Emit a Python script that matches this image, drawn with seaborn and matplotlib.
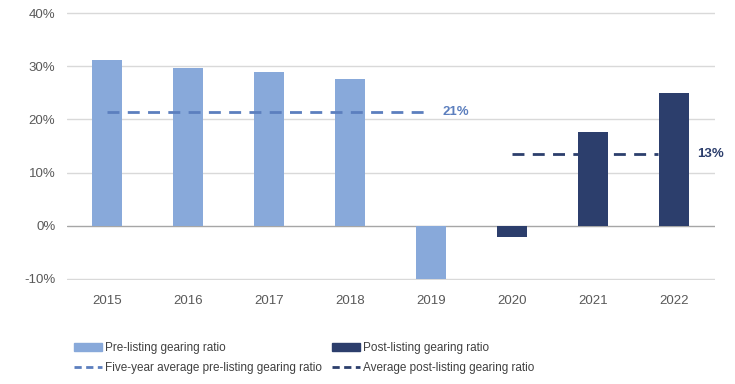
import matplotlib
matplotlib.use("Agg")
import matplotlib.pyplot as plt
import matplotlib.patches as mpatches
import matplotlib.lines as mlines
import numpy as np
import pandas as pd
import seaborn as sns

# Gearing ratio by year (%)
years = ["2015", "2016", "2017", "2018", "2019", "2020", "2021", "2022"]
ratios = [31.1, 29.6, 28.9, 27.6, -10.0, -2.1, 17.6, 24.9]
phases = ["Pre-listing", "Pre-listing", "Pre-listing", "Pre-listing", "Pre-listing",
          "Post-listing", "Post-listing", "Post-listing"]

pre_years = years[:5]
post_years = years[5:]

y_ticks = [-10, 0, 10, 20, 30, 40]

legend_labels = ["Pre-listing gearing ratio",
                 "Five-year average pre-listing gearing ratio",
                 "Post-listing gearing ratio",
                 "Average post-listing gearing ratio"]

PRE_COLOR = "#88A9DA"
POST_COLOR = "#2C3E6C"
PRE_LINE = "#5C7FBE"
POST_LINE = "#2C3E6C"
TEXT_GRAY = "#595959"

sns.set_theme(style="white")
plt.rcParams["font.family"] = ["Liberation Sans", "DejaVu Sans"]

df = pd.DataFrame({"year": years, "ratio": ratios, "phase": phases})

fig = plt.figure(figsize=(7.35, 3.84), dpi=100)
ax = fig.add_axes([66.5 / 735, 1 - 280 / 384, 648 / 735, 268 / 384])

sns.barplot(data=df, x="year", y="ratio", hue="phase", order=years,
            hue_order=["Pre-listing", "Post-listing"],
            palette={"Pre-listing": PRE_COLOR, "Post-listing": POST_COLOR},
            dodge=False, width=0.36, saturation=1, legend=False, linewidth=0,
            ax=ax, zorder=2)

# Averages of each period
pre_vals = [r for r, p in zip(ratios, phases) if p == "Pre-listing"]
post_vals = [r for r, p in zip(ratios, phases) if p == "Post-listing"]
pre_avg = float(np.mean(pre_vals))
post_avg = float(np.mean(post_vals))

x0_pre, x1_pre = years.index(pre_years[0]), years.index(pre_years[-1])
x0_post, x1_post = years.index(post_years[0]), years.index(post_years[-1])

dash = (0, (4.3, 3))
ax.plot([x0_pre, x1_pre], [pre_avg, pre_avg], color=PRE_LINE, lw=2,
        ls=dash, zorder=3)
ax.plot([x0_post, x1_post - 0.2], [post_avg, post_avg], color=POST_LINE, lw=2,
        ls=dash, zorder=3)

ax.text(x1_pre + 0.14, pre_avg, f"{pre_avg:.0f}%", color=PRE_LINE, fontsize=9.5,
        fontweight="bold", va="center", ha="left")
ax.text(x1_post + 0.28, post_avg, f"{post_avg:.0f}%", color=POST_LINE, fontsize=9.5,
        fontweight="bold", va="center", ha="left", clip_on=False)

ax.set_ylim(-10.2, 40.2)
ax.set_xlim(-0.5, len(years) - 0.5)
ax.set_yticks(y_ticks)
ax.set_yticklabels([f"{t}%" for t in y_ticks])
ax.set_xlabel("")
ax.set_ylabel("")

for t in y_ticks:
    ax.axhline(t, color="#D9D9D9" if t != 0 else "#A6A6A6", lw=1, zorder=1)

for s in ax.spines.values():
    s.set_visible(False)
ax.tick_params(axis="both", length=0, labelsize=9.5, labelcolor=TEXT_GRAY)
ax.tick_params(axis="x", pad=11)
ax.tick_params(axis="y", pad=8)

# Legend in two columns below the plot
bar_pre = mpatches.Patch(facecolor=PRE_COLOR, edgecolor=PRE_COLOR)
bar_post = mpatches.Patch(facecolor=POST_COLOR, edgecolor=POST_COLOR)
line_pre = mlines.Line2D([], [], color=PRE_LINE, lw=2, ls=(0, (2.6, 1.6)))
line_post = mlines.Line2D([], [], color=POST_LINE, lw=2, ls=(0, (2.6, 1.6)))

common = dict(frameon=False, fontsize=8.5, handlelength=2.4, handleheight=0.6,
              handletextpad=0.2, labelspacing=0.7, borderaxespad=0, borderpad=0,
              labelcolor="#404040")
leg1 = fig.legend([bar_pre, line_pre], legend_labels[:2], loc="upper left",
                  bbox_to_anchor=(74 / 735, 1 - 342 / 384), **common)
leg2 = fig.legend([bar_post, line_post], legend_labels[2:], loc="upper left",
                  bbox_to_anchor=(332 / 735, 1 - 342 / 384), **common)

fig.savefig("out.png", dpi=100)
